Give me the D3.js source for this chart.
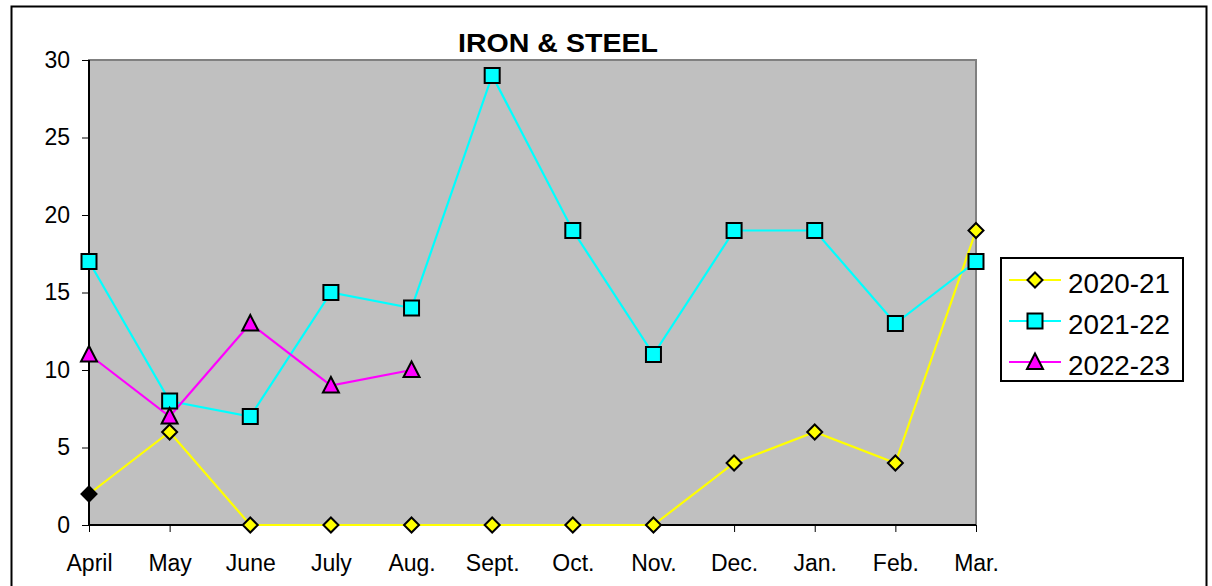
<!DOCTYPE html>
<html>
<head>
<meta charset="utf-8">
<script src="https://cdn.jsdelivr.net/npm/d3@7"></script>
<style>
  body { margin: 0; background: #fff; }
  svg text { font-family: "Liberation Sans", Arial, sans-serif; }
</style>
</head>
<body>
<div id="chart"></div>
<script>
// data
const months = ["April", "May", "June", "July", "Aug.", "Sept.", "Oct.", "Nov.", "Dec.", "Jan.", "Feb.", "Mar."]
const s2021 = [2, 6, 0, 0, 0, 0, 0, 0, 4, 6, 4, 19]
const s2122 = [17, 8, 7, 15, 14, 29, 19, 11, 19, 19, 13, 17]
const s2223 = [11, 7, 13, 9, 10]
const yTicks = [0, 5, 10, 15, 20, 25, 30]

const series = [
  {name: "2020-21", values: s2021, color: "#ffff00", shape: "diamond"},
  {name: "2021-22", values: s2122, color: "#00ffff", shape: "square"},
  {name: "2022-23", values: s2223, color: "#ff00ff", shape: "triangle"}
]

let width = 1212
let height = 586
let plot = {left: 89, top: 60, right: 976, bottom: 525}

let svg = d3.select("#chart")
  .append("svg")
  .attr("width", width)
  .attr("height", height)

// outer frame
svg.append("rect")
  .attr("x", 11.5).attr("y", 6.5)
  .attr("width", 1195).attr("height", 600)
  .attr("fill", "none")
  .attr("stroke", "#000")
  .attr("stroke-width", 2)

var x = d3.scalePoint().domain(months).range([plot.left, plot.right])
var y = d3.scaleLinear().domain([0, 30]).range([plot.bottom, plot.top])

// plot area
svg.append("rect")
  .attr("x", plot.left).attr("y", plot.top)
  .attr("width", plot.right - plot.left)
  .attr("height", plot.bottom - plot.top)
  .attr("fill", "#c0c0c0")
  .attr("stroke", "#808080")
  .attr("stroke-width", 2)

// title
svg.append("text")
  .attr("x", 558).attr("y", 52)
  .attr("text-anchor", "middle")
  .attr("textLength", 200)
  .attr("lengthAdjust", "spacingAndGlyphs")
  .style("font-size", "25px")
  .style("font-weight", "bold")
  .text("IRON & STEEL")

// axes
var yAxis = d3.axisLeft(y).tickValues(yTicks).tickSize(7).tickPadding(12)
var xAxis = d3.axisBottom(x).tickSize(7).tickPadding(23)

let gy = svg.append("g").attr("transform", "translate(" + plot.left + ",0)").call(yAxis)
let gx = svg.append("g").attr("transform", "translate(0," + plot.bottom + ")").call(xAxis)

gy.select(".domain").attr("stroke", "#000").attr("stroke-width", 2)
  .attr("d", "M0," + plot.top + "V" + plot.bottom)
gx.select(".domain").attr("stroke", "#000").attr("stroke-width", 2)
  .attr("d", "M" + plot.left + ",0H" + plot.right)
gy.selectAll(".tick text").style("font-size", "23px").attr("fill", "#000")
gx.selectAll(".tick text").style("font-size", "23px").attr("fill", "#000")
gy.selectAll(".tick line").attr("stroke", "#000")
gx.selectAll(".tick line").attr("stroke", "#000")

function markerPath(shape) {
  if (shape == "diamond") return "M0,-7.5L7.5,0L0,7.5L-7.5,0Z"
  if (shape == "square") return "M-7.5,-7.5H7.5V7.5H-7.5Z"
  return "M0,-8.5L8,7H-8Z"
}

let line = d3.line()
  .x((d, i) => x(months[i]))
  .y(d => y(d))

series.forEach(function(s) {
  svg.append("path")
    .datum(s.values)
    .attr("d", line)
    .attr("fill", "none")
    .attr("stroke", s.color)
    .attr("stroke-width", 2.2)
})

series.forEach(function(s) {
  svg.append("g").selectAll("path")
    .data(s.values)
    .enter().append("path")
    .attr("transform", (d, i) => "translate(" + x(months[i]) + "," + y(d) + ")")
    .attr("d", markerPath(s.shape))
    // the first 2020-21 point is drawn black in the original
    .attr("fill", (d, i) => (s.name == "2020-21" && i == 0) ? "#000" : s.color)
    .attr("stroke", "#000")
    .attr("stroke-width", 2)
})

// legend
let legend = svg.append("g")
legend.append("rect")
  .attr("x", 1001).attr("y", 258)
  .attr("width", 182).attr("height", 123)
  .attr("fill", "#fff")
  .attr("stroke", "#000")
  .attr("stroke-width", 2)

series.forEach(function(s, i) {
  let ly = 280 + i * 41
  legend.append("line")
    .attr("x1", 1009).attr("x2", 1061)
    .attr("y1", ly).attr("y2", ly)
    .attr("stroke", s.color)
    .attr("stroke-width", 2.2)
  legend.append("path")
    .attr("transform", "translate(1035," + ly + ")")
    .attr("d", markerPath(s.shape))
    .attr("fill", s.color)
    .attr("stroke", "#000")
    .attr("stroke-width", 2)
  legend.append("text")
    .attr("x", 1068).attr("y", ly + 13)
    .attr("textLength", 102)
    .attr("lengthAdjust", "spacingAndGlyphs")
    .style("font-size", "27px")
    .text(s.name)
})
</script>
</body>
</html>
